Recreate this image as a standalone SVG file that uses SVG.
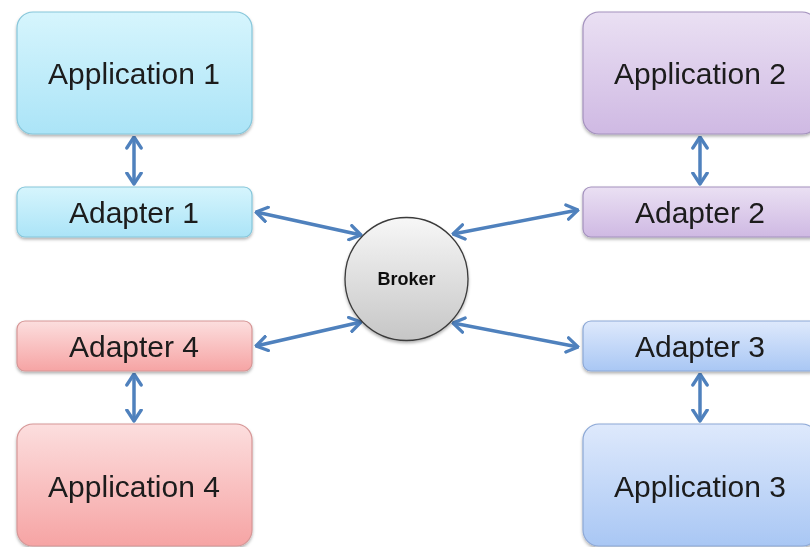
<svg xmlns="http://www.w3.org/2000/svg" width="810" height="547" viewBox="0 0 810 547">
<style>
.lbl{font-family:"Liberation Sans",Arial,sans-serif;font-size:30px;fill:#1a1a1a;text-anchor:middle}
.blbl{font-family:"Liberation Sans",Arial,sans-serif;font-size:18px;font-weight:bold;fill:#111111;text-anchor:middle}
.cyan{fill:url(#gCyan);stroke:#86c6da;stroke-width:1.2}
.purple{fill:url(#gPurple);stroke:#a391bd;stroke-width:1.2}
.red{fill:url(#gRed);stroke:#d69696;stroke-width:1.2}
.blue{fill:url(#gBlue);stroke:#8ca8d6;stroke-width:1.2}
.box{filter:url(#sh)}
.conn{stroke:#4f81bd;stroke-width:3.5;fill:none;marker-start:url(#ah);marker-end:url(#ah)}
</style>
<defs>
<linearGradient id="gCyan" x1="0" y1="0" x2="0" y2="1"><stop offset="0" stop-color="#d6f5fd"/><stop offset="1" stop-color="#abe4f7"/></linearGradient>
<linearGradient id="gPurple" x1="0" y1="0" x2="0" y2="1"><stop offset="0" stop-color="#eae0f3"/><stop offset="1" stop-color="#cfb9e3"/></linearGradient>
<linearGradient id="gRed" x1="0" y1="0" x2="0" y2="1"><stop offset="0" stop-color="#fcdede"/><stop offset="1" stop-color="#f6a4a4"/></linearGradient>
<linearGradient id="gBlue" x1="0" y1="0" x2="0" y2="1"><stop offset="0" stop-color="#dee9fc"/><stop offset="1" stop-color="#a9c7f4"/></linearGradient>
<linearGradient id="gGray" x1="0" y1="0" x2="0" y2="1"><stop offset="0" stop-color="#f7f7f7"/><stop offset="1" stop-color="#c6c6c6"/></linearGradient>
<filter id="sh" x="-10%" y="-10%" width="120%" height="130%"><feDropShadow dx="0" dy="2" stdDeviation="1.5" flood-color="#000" flood-opacity="0.3"/></filter>
<marker id="ah" viewBox="0 0 14 18" refX="12.5" refY="9" markerWidth="14" markerHeight="18" markerUnits="userSpaceOnUse" orient="auto-start-reverse">
<path d="M1.5,1.8 L12.5,9 L1.5,16.2" fill="none" stroke="#4f81bd" stroke-width="3.3" stroke-linecap="round" stroke-linejoin="round"/>
</marker>
</defs>
<rect width="810" height="547" fill="#ffffff"/>

<g id="connectors">
<line class="conn" x1="134" y1="137" x2="134" y2="184"/>
<line class="conn" x1="134" y1="374" x2="134" y2="421"/>
<line class="conn" x1="700" y1="137" x2="700" y2="184"/>
<line class="conn" x1="700" y1="374" x2="700" y2="421"/>
<line class="conn" x1="256" y1="212" x2="361" y2="235"/>
<line class="conn" x1="578" y1="210" x2="453" y2="234"/>
<line class="conn" x1="256" y1="346" x2="361" y2="322"/>
<line class="conn" x1="578" y1="347" x2="453" y2="323"/>
</g>

<g id="app1" class="box"><rect class="cyan" x="17" y="12" width="235" height="122" rx="16"/><text class="lbl" x="134" y="84">Application 1</text></g>
<g id="adapter1" class="box"><rect class="cyan" x="17" y="187" width="235" height="50" rx="8"/><text class="lbl" x="134" y="223">Adapter 1</text></g>
<g id="app2" class="box"><rect class="purple" x="583" y="12" width="235" height="122" rx="16"/><text class="lbl" x="700" y="84">Application 2</text></g>
<g id="adapter2" class="box"><rect class="purple" x="583" y="187" width="235" height="50" rx="8"/><text class="lbl" x="700" y="223">Adapter 2</text></g>
<g id="adapter4" class="box"><rect class="red" x="17" y="321" width="235" height="50" rx="8"/><text class="lbl" x="134" y="357">Adapter 4</text></g>
<g id="app4" class="box"><rect class="red" x="17" y="424" width="235" height="122" rx="16"/><text class="lbl" x="134" y="497">Application 4</text></g>
<g id="adapter3" class="box"><rect class="blue" x="583" y="321" width="235" height="50" rx="8"/><text class="lbl" x="700" y="357">Adapter 3</text></g>
<g id="app3" class="box"><rect class="blue" x="583" y="424" width="235" height="122" rx="16"/><text class="lbl" x="700" y="497">Application 3</text></g>
<g id="broker" class="box"><circle cx="406.5" cy="279" r="61.5" fill="url(#gGray)" stroke="#3a3a3a" stroke-width="1.3"/><text class="blbl" x="406.5" y="285">Broker</text></g>
</svg>
